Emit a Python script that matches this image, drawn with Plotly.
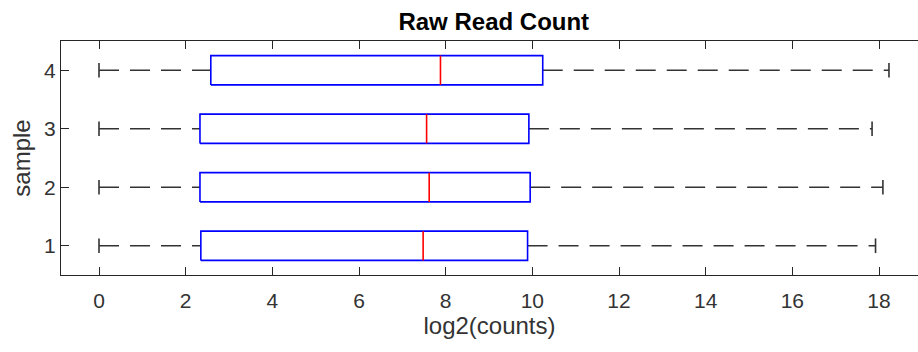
import plotly.graph_objects as go

# Per-sample box statistics of log2 read counts
samples = [1, 2, 3, 4]
sample_labels = ["1", "2", "3", "4"]
lower_adjacent = [0.0, 0.0, 0.0, 0.0]
q1 = [2.35, 2.33, 2.33, 2.58]
median = [7.48, 7.62, 7.56, 7.88]
q3 = [9.89, 9.95, 9.92, 10.24]
upper_adjacent = [17.92, 18.09, 17.84, 18.23]

x_ticks = [0, 2, 4, 6, 8, 10, 12, 14, 16, 18]
x_tick_labels = ["0", "2", "4", "6", "8", "10", "12", "14", "16", "18"]

BOX_HALF = 0.25   # half of the box thickness along the sample axis
CAP_HALF = 0.125  # half length of the whisker end caps

AXIS_COLOR = "#262626"
LABEL_COLOR = "#333333"
FONT = "Liberation Sans, Arial, sans-serif"

wx, wy, cx, cy, bx, by, mx, my = [], [], [], [], [], [], [], []
for s, lo, a, m, b, hi in zip(samples, lower_adjacent, q1, median, q3, upper_adjacent):
    # whiskers, each drawn left to right so the dash pattern starts at its left end
    wx += [lo, a, None, b, hi, None]
    wy += [s, s, None, s, s, None]
    # end caps
    cx += [lo, lo, None, hi, hi, None]
    cy += [s - CAP_HALF, s + CAP_HALF, None, s - CAP_HALF, s + CAP_HALF, None]
    # interquartile box
    bx += [a, b, b, a, a, None]
    by += [s - BOX_HALF, s - BOX_HALF, s + BOX_HALF, s + BOX_HALF, s - BOX_HALF, None]
    # median line
    mx += [m, m, None]
    my += [s - BOX_HALF, s + BOX_HALF, None]

fig = go.Figure()
fig.add_trace(go.Scatter(x=wx, y=wy, mode="lines", hoverinfo="skip",
                         line=dict(color="#333333", width=1.6, dash="20px,11px")))
fig.add_trace(go.Scatter(x=cx, y=cy, mode="lines", hoverinfo="skip",
                         line=dict(color="#333333", width=1.6)))
fig.add_trace(go.Scatter(x=bx, y=by, mode="lines", hoverinfo="skip",
                         line=dict(color="#0000ff", width=1.6)))
fig.add_trace(go.Scatter(x=mx, y=my, mode="lines", hoverinfo="skip",
                         line=dict(color="#ff0000", width=1.6)))

fig.update_layout(
    width=918, height=352,
    margin=dict(l=61, r=0, t=41, b=77, autoexpand=False),
    paper_bgcolor="white", plot_bgcolor="white",
    showlegend=False,
    font=dict(family=FONT, color=AXIS_COLOR),
    title=dict(text="<b>Raw Read Count</b>", x=0.505, xref="paper", xanchor="center",
               y=0.939, yref="container", yanchor="middle",
               font=dict(family=FONT, size=24, color="#000000")),
    xaxis=dict(range=[-0.877, 18.90], tickvals=x_ticks, ticktext=x_tick_labels,
               ticks="inside", ticklen=8, tickwidth=1, tickcolor=AXIS_COLOR,
               ticklabelstandoff=7,
               showline=True, linecolor=AXIS_COLOR, linewidth=1, mirror="ticks",
               showgrid=False, zeroline=False,
               tickfont=dict(family=FONT, size=21, color=LABEL_COLOR),
               title=dict(text="log2(counts)", standoff=4,
                          font=dict(family=FONT, size=24, color=LABEL_COLOR))),
    yaxis=dict(range=[0.5, 4.5], tickvals=samples, ticktext=sample_labels,
               ticks="inside", ticklen=8, tickwidth=1, tickcolor=AXIS_COLOR,
               showline=True, linecolor=AXIS_COLOR, linewidth=1, mirror=False,
               showgrid=False, zeroline=False,
               tickfont=dict(family=FONT, size=21, color=LABEL_COLOR),
               title=dict(text="sample", standoff=6,
                          font=dict(family=FONT, size=24, color=LABEL_COLOR))),
)

fig.write_html("out.html")
